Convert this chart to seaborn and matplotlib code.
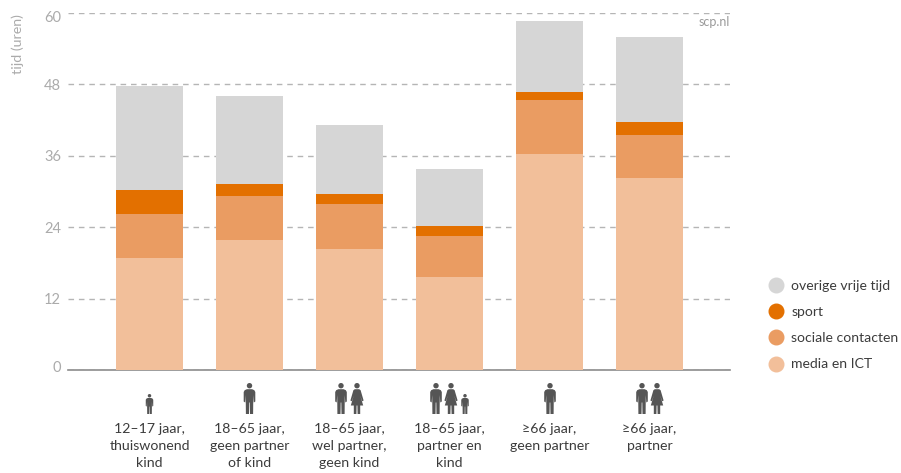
import numpy as np
import pandas as pd
import matplotlib
matplotlib.use("Agg")
import matplotlib.pyplot as plt
import seaborn as sns
from matplotlib.lines import Line2D
from matplotlib.patches import Circle, Polygon
from matplotlib.transforms import Affine2D

groups = ["12\u201317 jaar,\nthuiswonend\nkind", "18\u201365 jaar,\ngeen partner\nof kind",
          "18\u201365 jaar,\nwel partner,\ngeen kind", "18\u201365 jaar,\npartner en\nkind",
          "\u226566 jaar,\ngeen partner", "\u226566 jaar,\npartner"]
media = [18.8, 21.8, 20.3, 15.6, 36.3, 32.3]
sociaal = [7.4, 7.4, 7.6, 6.9, 9.1, 7.2]
sport = [4.0, 2.1, 1.7, 1.7, 1.3, 2.2]
overig = [17.5, 14.7, 11.6, 9.6, 12.0, 14.3]

series = ["media en ICT", "sociale contacten", "sport", "overige vrije tijd"]
colors = ["#f2bf9a", "#ea9c62", "#e37000", "#d6d6d6"]
yticks = [0, 12, 24, 36, 48, 60]

df = pd.DataFrame({"groep": groups, series[0]: media, series[1]: sociaal,
                   series[2]: sport, series[3]: overig})

sns.set_style("white")
plt.rcParams["font.family"] = ["Lato", "DejaVu Sans"]

W, H = 901, 473
fig = plt.figure(figsize=(W / 100, H / 100), dpi=100)
ax = fig.add_axes([68 / W, 1 - 370 / H, (730 - 68) / W, (370 - 13) / H])

bottom = np.zeros(len(groups))
for name, col in zip(series, colors):
    sns.barplot(data=df, x="groep", y=name, color=col, bottom=bottom, width=0.67,
                saturation=1, linewidth=0, edgecolor="none", ax=ax, zorder=3)
    bottom = bottom + df[name].values

ax.set_xlim(-0.815, 5.805)
ax.set_ylim(0, 60)
ax.set_yticks(yticks)
ax.set_xlabel("")
ax.set_ylabel("")
ax.grid(False)
ax.yaxis.grid(True, color="#b5b5b5", linestyle=(0, (4, 3.5)), linewidth=1)
ax.set_axisbelow(True)
sns.despine(ax=ax, left=True, top=True, right=True)
ax.spines["bottom"].set_color("#8c8c8c")
ax.spines["bottom"].set_linewidth(1.2)
ax.tick_params(axis="y", length=0, pad=5, labelsize=10.5, labelcolor="#ababab")
ax.tick_params(axis="x", length=0, pad=38.5, labelsize=10.2, labelcolor="#3c3c3c")
for lab in ax.get_xticklabels():
    lab.set_linespacing(1.46)
# the end labels sit a little inside the axis range, as in the original
ylabs = ax.get_yticklabels()
ylabs[0].set_transform(ylabs[0].get_transform() + Affine2D().translate(0, 3))
ylabs[-1].set_transform(ylabs[-1].get_transform() + Affine2D().translate(0, -3))

fig.text(18 / W, 1 - 14 / H, "tijd (uren)", rotation=90, ha="center", va="top",
         fontsize=10.3, color="#ababab")
ax.text(1, 1 - 9 / 357, "scp.nl", transform=ax.transAxes, ha="right", va="center",
        fontsize=9, color="#9a9a9a")

# legend, top to bottom is the reverse of the stack
handles = [Line2D([], [], marker="o", linestyle="", markersize=10.5, color=c, label=s)
           for s, c in zip(series[::-1], colors[::-1])]
fig.legend(handles=handles, loc="center left", bbox_to_anchor=(762 / W, 1 - 325 / H),
           frameon=False, fontsize=10.1, labelcolor="#3c3c3c", labelspacing=1.02,
           handletextpad=0.1, borderpad=0, borderaxespad=0)

# people icons, drawn in pixels from the top left of the figure
ICON = "#555555"
to_px = Affine2D().scale(1, -1).translate(0, H)
man = [(-2.6, 6.2), (2.6, 6.2), (4.8, 7.2), (5.8, 9), (5.8, 18.5), (4.3, 19.5), (3.8, 12),
       (3.6, 31), (0.5, 31), (0.3, 19.5), (-0.3, 19.5), (-0.5, 31), (-3.6, 31), (-3.8, 12),
       (-4.3, 19.5), (-5.8, 18.5), (-5.8, 9), (-4.8, 7.2)]
woman = [(-2.2, 6.2), (2.2, 6.2), (3.6, 7.2), (6.6, 17.5), (5.2, 18.3), (3.2, 12.5), (6.2, 22.5),
         (3.2, 22.5), (3.2, 31), (0.6, 31), (0.4, 22.5), (-0.4, 22.5), (-0.6, 31), (-3.2, 31),
         (-3.2, 22.5), (-6.2, 22.5), (-3.2, 12.5), (-5.2, 18.3), (-6.6, 17.5), (-3.6, 7.2)]


def person(cx, shape, size=31):
    s = size / 31
    base = 414 - size
    tr = Affine2D().scale(s).translate(cx, base) + to_px
    fig.add_artist(Polygon(shape, closed=True, facecolor=ICON, edgecolor="none", transform=tr))
    fig.add_artist(Circle((0, 2.7), 2.7, facecolor=ICON, edgecolor="none", transform=tr))


person(149.5, man, 20)
person(249.5, man)
person(341, man)
person(357, woman)
person(436, man)
person(451, woman)
person(465, man, 20)
person(550, man)
person(642, man)
person(657, woman)

plt.savefig("out.png", dpi=100)
